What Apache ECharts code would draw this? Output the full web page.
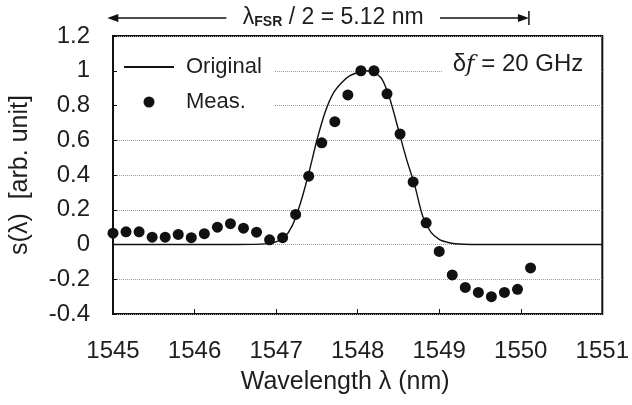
<!DOCTYPE html>
<html>
<head>
<meta charset="utf-8">
<title>s(λ) original vs measured</title>
<script src="https://cdn.jsdelivr.net/npm/echarts@6/dist/echarts.min.js"></script>
<style>
  html, body { margin: 0; padding: 0; background: #fff; }
  #chart { width: 632px; height: 405px; }
</style>
</head>
<body>
<div id="chart"></div>
<script>
// 测量点 (Meas.)
const measX = [1545.00, 1545.16, 1545.32, 1545.48, 1545.64, 1545.80, 1545.96, 1546.12, 1546.28, 1546.44,
  1546.60, 1546.76, 1546.92, 1547.08, 1547.24, 1547.40, 1547.56, 1547.72, 1547.88, 1548.04,
  1548.20, 1548.36, 1548.52, 1548.68, 1548.84, 1549.00, 1549.16, 1549.32, 1549.48, 1549.64,
  1549.80, 1549.96, 1550.12];
const measY = [0.065, 0.073, 0.073, 0.042, 0.042, 0.058, 0.039, 0.062, 0.10, 0.12,
  0.094, 0.071, 0.027, 0.039, 0.173, 0.393, 0.585, 0.707, 0.861, 1.0,
  1.0, 0.867, 0.636, 0.36, 0.125, -0.04, -0.175, -0.247, -0.276, -0.30,
  -0.276, -0.258, -0.135];

// 原始曲线 (Original)
const origX = [1545, 1546.5, 1546.9, 1547.0, 1547.1, 1547.2, 1547.3, 1547.4, 1547.5, 1547.6,
  1547.7, 1547.8, 1547.9, 1548.0, 1548.1, 1548.2, 1548.3, 1548.4, 1548.5, 1548.6,
  1548.7, 1548.8, 1548.9, 1549.0, 1549.1, 1549.2, 1549.4, 1551];
const origY = [0, 0, 0.005, 0.015, 0.04, 0.11, 0.24, 0.41, 0.6, 0.76,
  0.87, 0.93, 0.97, 0.99, 1.0, 0.99, 0.95, 0.83, 0.66, 0.49,
  0.34, 0.16, 0.07, 0.03, 0.013, 0.004, 0, 0];

// 坐标轴范围
const xRange = [1545, 1551];
const yRange = [-0.4, 1.2];
// 顶部箭头标注 λFSR/2：箭头两端、文字左右留白处
const fsrSpan = [1544.93, 1550.1];
const fsrGap = [1546.39, 1549.01];

const font = "Liberation Sans";
const ink = "#1e1e1e";

const chart = echarts.init(document.getElementById("chart"));

chart.setOption({
  animation: false,
  backgroundColor: "#fff",
  grid: {
    left: 113,
    right: 26,
    top: 36,
    bottom: 91,
    show: true,
    borderColor: "#111",
    borderWidth: 2,
  },
  legend: {
    orient: "vertical",
    left: 117,
    top: 48,
    itemWidth: 50,
    itemHeight: 11,
    itemGap: 13,
    backgroundColor: "#fff",
    padding: [8, 13, 6, 6],
    textStyle: { fontFamily: font, fontSize: 22, color: ink, padding: [0, 0, 0, 7] },
    data: [
      { name: "Original", itemStyle: { opacity: 0 } },
      { name: "Meas.", icon: "circle" },
    ],
  },
  xAxis: {
    type: "value",
    min: xRange[0],
    max: xRange[1],
    interval: 1,
    name: "Wavelength λ (nm)",
    nameLocation: "middle",
    nameGap: 56,
    nameTextStyle: { fontFamily: font, fontSize: 25, color: ink, padding: [0, 25, 0, 0] },
    axisLine: { show: false, onZero: false },
    axisTick: { show: true, inside: true, length: 5, lineStyle: { color: "#111" } },
    axisLabel: { fontFamily: font, fontSize: 24, color: ink, margin: 25, formatter: (v) => String(v) },
    splitLine: { show: false },
  },
  yAxis: {
    type: "value",
    min: yRange[0],
    max: yRange[1],
    interval: 0.2,
    name: "s(λ)  [arb. unit]",
    nameLocation: "middle",
    nameGap: 80,
    nameTextStyle: { fontFamily: font, fontSize: 25, color: ink },
    axisLine: { show: false, onZero: false },
    axisTick: { show: true, inside: true, length: 4, lineStyle: { color: "#111" } },
    axisLabel: { fontFamily: font, fontSize: 24, color: ink, margin: 23 },
    splitLine: { show: true, lineStyle: { color: "#9a9a9a", type: "dotted", width: 1 } },
  },
  series: [
    {
      name: "Original",
      type: "line",
      data: origX.map((x, i) => [x, origY[i]]),
      symbol: "none",
      smooth: 0.3,
      lineStyle: { color: "#111", width: 1.4 },
      itemStyle: { color: "#111" },
      z: 3,
    },
    {
      name: "Meas.",
      type: "scatter",
      data: measX.map((x, i) => [x, measY[i]]),
      symbol: "circle",
      symbolSize: 11,
      itemStyle: { color: "#111", opacity: 1 },
      z: 4,
    },
  ],
});

// 顶部箭头与 δf 标注，像素位置由坐标换算得到
const toPx = (x, y) => chart.convertToPixel({ gridIndex: 0 }, [x, y]);
const a = toPx(fsrSpan[0], yRange[1]);
const b = toPx(fsrSpan[1], yRange[1]);
const g0 = toPx(fsrGap[0], yRange[1]);
const g1 = toPx(fsrGap[1], yRange[1]);
const ay = a[1] - 18;
const rightEdge = toPx(xRange[1], 1.0);

chart.setOption({
  graphic: [
    { type: "line", shape: { x1: a[0] + 4, y1: ay, x2: g0[0], y2: ay }, style: { stroke: "#111", lineWidth: 1.5 } },
    { type: "line", shape: { x1: g1[0], y1: ay, x2: b[0] - 4, y2: ay }, style: { stroke: "#111", lineWidth: 1.5 } },
    { type: "polygon", shape: { points: [[a[0], ay], [a[0] + 11, ay - 4], [a[0] + 11, ay + 4]] }, style: { fill: "#111" } },
    { type: "polygon", shape: { points: [[b[0], ay], [b[0] - 11, ay - 4], [b[0] - 11, ay + 4]] }, style: { fill: "#111" } },
    { type: "line", shape: { x1: b[0], y1: ay - 7, x2: b[0], y2: ay + 7 }, style: { stroke: "#111", lineWidth: 1.5 } },
    {
      type: "text",
      x: (g0[0] + g1[0]) / 2,
      y: ay,
      style: {
        text: "{l|λ}{s|FSR}{n| / 2 = 5.12 nm}",
        align: "center",
        verticalAlign: "middle",
        rich: {
          l: { fontFamily: font, fontSize: 23, fill: ink },
          s: { fontFamily: font, fontSize: 14, fontWeight: "bold", fill: ink, verticalAlign: "bottom", padding: [7, 0, 0, 0] },
          n: { fontFamily: font, fontSize: 23, fill: ink },
        },
      },
      z: 10,
    },
    {
      type: "text",
      x: rightEdge[0] - 2,
      y: rightEdge[1] - 6,
      style: {
        text: "{d|δ}{f|f}{d| = 20 GHz}",
        align: "right",
        verticalAlign: "middle",
        backgroundColor: "#fff",
        padding: [3, 17, 3, 10],
        rich: {
          d: { fontFamily: font, fontSize: 24, fill: ink },
          f: { fontFamily: "DejaVu Serif", fontSize: 23, fontStyle: "italic", fill: ink },
        },
      },
      z: 10,
    },
  ],
});
</script>
</body>
</html>
